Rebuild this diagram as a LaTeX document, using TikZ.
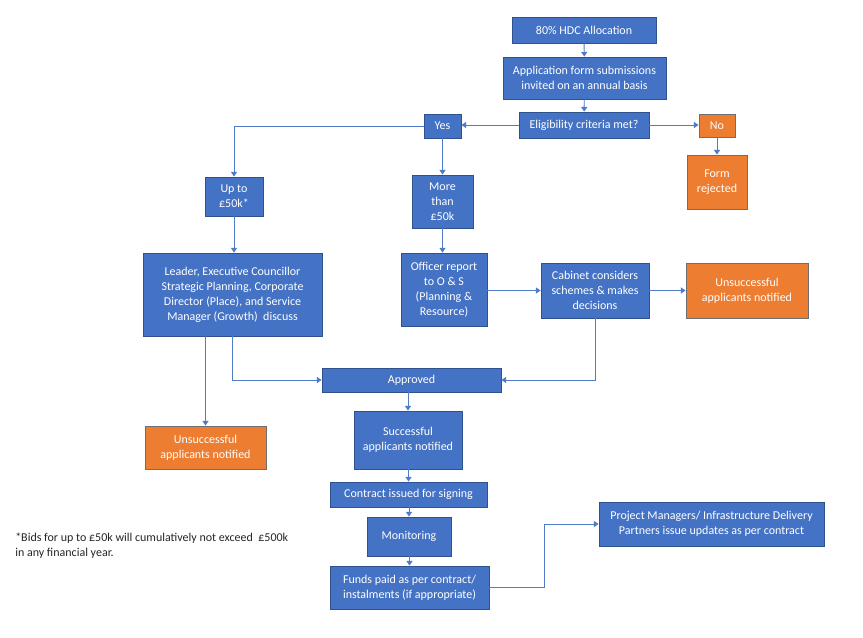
\documentclass[tikz,border=0pt]{standalone}
\usepackage{fontspec}
\setmainfont{Carlito}
\usetikzlibrary{arrows.meta}
\definecolor{bfill}{HTML}{4472C4}
\definecolor{bdraw}{HTML}{2F528F}
\definecolor{ofill}{HTML}{ED7D31}
\definecolor{odraw}{HTML}{6E6E6E}
\definecolor{lcol}{HTML}{4F7BC8}
\tikzset{
  bluebox/.style={draw=bdraw, fill=bfill, line width=0.6pt, text=white, align=center, inner sep=0pt, font=\fontsize{9}{11.25}\selectfont},
  orangebox/.style={draw=odraw, fill=ofill, line width=0.6pt, text=white, align=center, inner sep=0pt, font=\fontsize{9}{11.25}\selectfont},
  conn/.style={draw=lcol, line width=0.7pt, -{Triangle[width=4.5pt,length=3.5pt]}},
  bsz/.style 2 args={minimum width=#1*0.75pt, minimum height=#2*0.75pt},
}
\begin{document}
\begin{tikzpicture}[x=0.75pt,y=-0.75pt]
\useasboundingbox (0,0) rectangle (863,638);
\fill[white] (0,0) rectangle (863,638);
\node[bluebox, bsz={144}{26}] (hdc) at (584,30) {80\% HDC Allocation};
\node[bluebox, bsz={163}{42}] (app) at (584.5,78) {Application form submissions\\invited on an annual basis};
\node[bluebox, bsz={130}{26}] (elig) at (584,125) {Eligibility criteria met?};
\node[bluebox, bsz={37}{24}] (yes) at (442.5,126) {Yes};
\node[orangebox, bsz={36}{23}] (no) at (717,125.5) {No};
\node[orangebox, bsz={60}{54}] (rej) at (717,182) {Form\\rejected};
\node[bluebox, bsz={58}{39}] (upto) at (234,196.5) {Up to\\£50k*};
\node[bluebox, bsz={61}{53}] (more) at (442.5,201.5) {More\\than\\£50k};
\node[bluebox, bsz={179}{83}] (leader) at (232.5,294.5) {Leader, Executive Councillor\\Strategic Planning, Corporate\\Director (Place), and Service\\Manager (Growth)\ \ discuss};
\node[bluebox, bsz={86}{73}] (officer) at (444,289.5) {Officer report\\to O \& S\\(Planning \&\\Resource)};
\node[bluebox, bsz={108}{55}] (cabinet) at (595,290.5) {Cabinet considers\\schemes \& makes\\decisions};
\node[orangebox, bsz={122}{55}] (unsR) at (747,290.5) {Unsuccessful\\applicants notified};
\node[bluebox, bsz={179}{24}] (approved) at (411.5,380) {Approved};
\node[orangebox, bsz={121}{43}] (unsL) at (205.5,447.5) {Unsuccessful\\applicants notified};
\node[bluebox, bsz={108}{58}] (succ) at (408,440) {Successful\\applicants notified};
\node[bluebox, bsz={157}{25}] (contract) at (408.5,494.5) {Contract issued for signing};
\node[bluebox, bsz={84}{39}] (monitor) at (409,536.5) {Monitoring};
\node[bluebox, bsz={159}{43}] (funds) at (409.5,587.5) {Funds paid as per contract/\\instalments (if appropriate)};
\node[bluebox, bsz={225}{44}] (pm) at (711.5,524) {Project Managers/ Infrastructure Delivery\\Partners issue updates as per contract};
\node[anchor=north west, align=left, inner sep=0pt, text=black!85, font=\fontsize{9}{11.25}\selectfont] (note) at (15,533) {*Bids for up to £50k will cumulatively not exceed\ \ £500k\\in any financial year.};
\coordinate (bend) at (544,560);
% connectors
\draw[conn] (hdc) -- (app);
\draw[conn] (app) -- (elig);
\draw[conn] (elig.west) -- (elig.west -| yes.east);
\draw[conn] (elig.east) -- (elig.east -| no.west);
\draw[conn] (no) -- (rej);
\draw[conn] (yes.west) -| (upto.north);
\draw[conn] (yes) -- (more);
\draw[conn] (upto.south) -- (upto.south |- leader.north);
\draw[conn] (more.south) -- (more.south |- officer.north);
\draw[conn] (officer.east |- cabinet.west) -- (cabinet.west);
\draw[conn] (cabinet) -- (unsR);
\draw[conn] (cabinet.south) |- (approved.east);
\draw[conn] (leader.south) |- (approved.west);
\draw[conn] (leader.south -| unsL.north) -- (unsL.north);
\draw[conn] (succ.north |- approved.south) -- (succ.north);
\draw[conn] (contract.north |- succ.south) -- (contract.north);
\draw[conn] (monitor.north |- contract.south) -- (monitor.north);
\draw[conn] (funds.north |- monitor.south) -- (funds.north);
\draw[conn] (funds.east) -- (funds.east -| bend) -- (bend |- pm.west) -- (pm.west);
\end{tikzpicture}
\end{document}
